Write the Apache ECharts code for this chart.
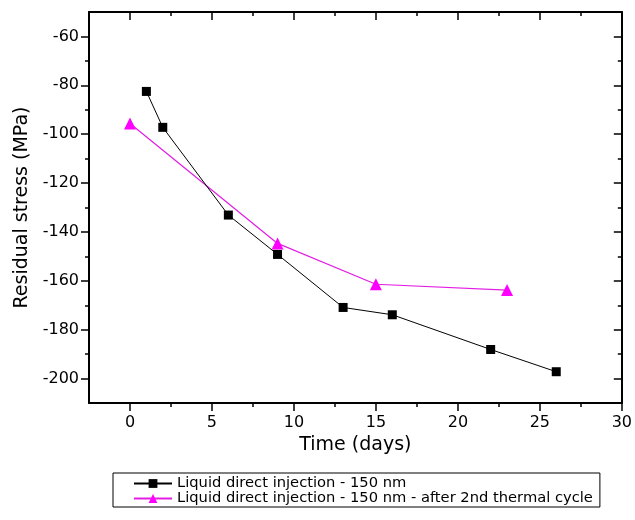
<!DOCTYPE html>
<html><head><meta charset="utf-8">
<script src="https://cdn.jsdelivr.net/npm/echarts@6/dist/echarts.min.js"></script>
<style>html,body{margin:0;padding:0;background:#fff}#c{width:635px;height:520px}</style>
</head><body><div id="c"></div>
<script>
const blackX = [1, 2, 6, 9, 13, 16, 22, 26];
const blackY = [-82.5, -97.2, -133.1, -149.2, -170.9, -173.9, -188.1, -197.2];
const magX = [0, 9, 15, 23];
const magY = [-95.6, -144.7, -161.4, -163.8];
const xMajor = [0, 5, 10, 15, 20, 25, 30];
const xMinor = [2.5, 7.5, 12.5, 17.5, 22.5, 27.5];
const yMajor = [-200, -180, -160, -140, -120, -100, -80, -60];
const yMinor = [-190, -170, -150, -130, -110, -90, -70];
const seriesNames = ['Liquid direct injection - 150 nm', 'Liquid direct injection - 150 nm - after 2nd thermal cycle'];
const xTitle = 'Time (days)';
const yTitle = 'Residual stress (MPa)';

const FONT = 'DejaVu Sans';
const lineStyle = {color: '#000', width: 2};
function xAx(pos, major, showLine, showLabel, inside, extra) {
  return Object.assign({
    type: 'value', position: pos, min: -2.5, max: 30,
    axisLine: {show: showLine, onZero: false, lineStyle: lineStyle},
    axisTick: {show: true, inside: inside, length: major ? 8 : 4, customValues: major ? xMajor : xMinor, lineStyle: {color: '#000', width: 1.5}},
    axisLabel: {show: showLabel, customValues: xMajor, color: '#000', fontFamily: FONT, fontSize: 16, margin: 12},
    splitLine: {show: false}
  }, extra || {});
}
function yAx(pos, major, showLine, showLabel, inside, extra) {
  return Object.assign({
    type: 'value', position: pos, min: -210, max: -50,
    axisLine: {show: showLine, onZero: false, lineStyle: lineStyle},
    axisTick: {show: true, inside: inside, length: major ? 8 : 4, customValues: major ? yMajor : yMinor, lineStyle: {color: '#000', width: 1.5}},
    axisLabel: {show: showLabel, customValues: yMajor, color: '#000', fontFamily: FONT, fontSize: 16, margin: 10},
    splitLine: {show: false}
  }, extra || {});
}

const chart = echarts.init(document.getElementById('c'), null, {renderer: 'canvas'});
chart.setOption({
  animation: false,
  backgroundColor: '#fff',
  grid: {left: 89, right: 12, top: 12, bottom: 117, containLabel: false},
  xAxis: [
    xAx('bottom', true, true, true, false, {name: xTitle, nameLocation: 'middle', nameGap: 33,
      nameTextStyle: {color: '#000', fontFamily: FONT, fontSize: 19}}),
    xAx('bottom', false, false, false, false),
    xAx('top', true, true, false, true),
    xAx('top', false, false, false, true)
  ],
  yAxis: [
    yAx('left', true, true, true, false, {name: yTitle, nameLocation: 'middle', nameGap: 55,
      nameTextStyle: {color: '#000', fontFamily: FONT, fontSize: 19}}),
    yAx('left', false, false, false, false),
    yAx('right', true, true, false, true),
    yAx('right', false, false, false, true)
  ],
  legend: {
    orient: 'vertical', left: 113, top: 473,
    borderColor: '#000', borderWidth: 1, borderRadius: 0,
    padding: [3, 7, 1, 20], itemGap: 0, itemWidth: 38, itemHeight: 11,
    textStyle: {color: '#000', fontFamily: FONT, fontSize: 14.7, lineHeight: 15},
    data: seriesNames
  },
  series: [
    {name: seriesNames[0], type: 'line', xAxisIndex: 0, yAxisIndex: 0,
      data: blackX.map((x, i) => [x, blackY[i]]),
      symbol: 'rect', symbolSize: 9, lineStyle: {color: '#000', width: 1},
      itemStyle: {color: '#000'}, z: 3},
    {name: seriesNames[1], type: 'line', xAxisIndex: 0, yAxisIndex: 0,
      data: magX.map((x, i) => [x, magY[i]]),
      symbol: 'triangle', symbolSize: 12, lineStyle: {color: '#e31ee3', width: 1.2},
      itemStyle: {color: '#ff00ff'}, z: 2}
  ]
});
</script></body></html>
